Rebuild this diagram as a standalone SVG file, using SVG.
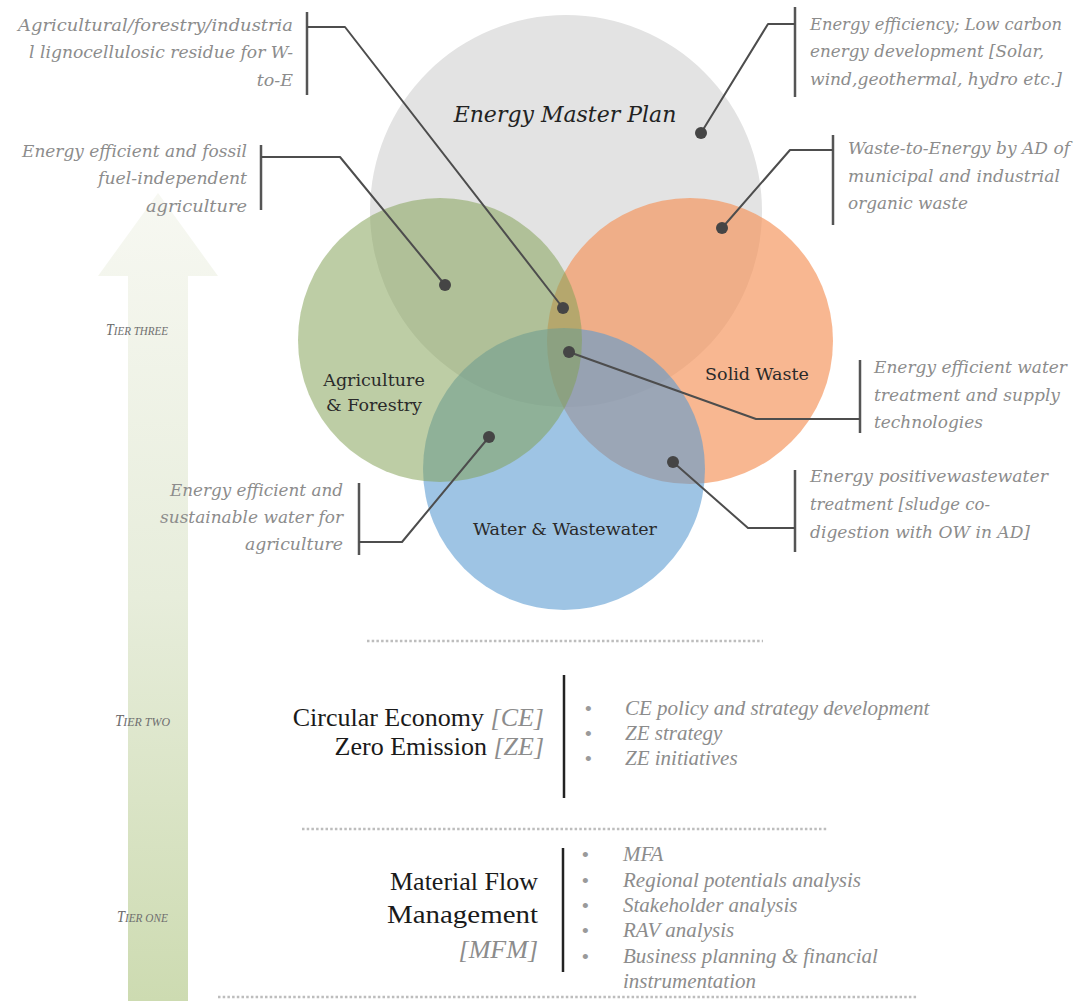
<svg xmlns="http://www.w3.org/2000/svg" width="1077" height="1001" viewBox="0 0 1077 1001">
  <style>
    .note { font-family: "DejaVu Serif", "Liberation Serif", serif; font-style: italic; font-size: 17.5px; fill: #8c8c8c; }
    .lbl { font-family: "DejaVu Serif", "Liberation Serif", serif; font-size: 17.5px; fill: #2a2a2a; text-anchor: middle; }
    .title { font-family: "DejaVu Serif", "Liberation Serif", serif; font-style: italic; font-size: 22px; fill: #222; text-anchor: middle; }
    .tier { font-family: "Liberation Serif", "DejaVu Serif", serif; font-style: italic; fill: #6e6e6e; }
    .big { font-family: "Liberation Serif", "DejaVu Serif", serif; font-size: 26px; fill: #1a1a1a; text-anchor: end; }
    .abbr { font-style: italic; fill: #8c8c8c; }
    .item { font-family: "Liberation Serif", "DejaVu Serif", serif; font-style: italic; font-size: 21px; fill: #8c8c8c; }
    .bul { font-family: "Liberation Sans", sans-serif; font-size: 19px; fill: #9a9a9a; }
    .lead { fill: none; stroke: #4d4d4d; stroke-width: 2; stroke-linejoin: round; }
    .brk { fill: none; stroke: #555; stroke-width: 2.5; }
    .dot { fill: #454545; }
    .sep { stroke: #bdbdbd; stroke-width: 2.5; stroke-dasharray: 2.5 2.2; }
    .rule { stroke: #222; stroke-width: 2.5; }
  </style>
  <defs>
    <linearGradient id="tierGrad" x1="0" y1="193" x2="0" y2="1001" gradientUnits="userSpaceOnUse">
      <stop offset="0" stop-color="#f7f8f2"/>
      <stop offset="0.5" stop-color="#e7eddb"/>
      <stop offset="1" stop-color="#cddbb1"/>
    </linearGradient>
  </defs>

  <rect width="1077" height="1001" fill="#ffffff"/>

  <!-- tier arrow -->
  <g id="tier-arrow">
    <polygon points="158,193 218,276 188,276 188,1001 128,1001 128,276 98,276" fill="url(#tierGrad)"/>
  </g>

  <!-- tier names (small caps) -->
  <g id="tier-labels" class="tier">
    <text x="106" y="335" textLength="62" lengthAdjust="spacingAndGlyphs"><tspan font-size="17">T</tspan><tspan font-size="13.5">IER THREE</tspan></text>
    <text x="115" y="726" textLength="55" lengthAdjust="spacingAndGlyphs"><tspan font-size="17">T</tspan><tspan font-size="13.5">IER TWO</tspan></text>
    <text x="117" y="922" textLength="51" lengthAdjust="spacingAndGlyphs"><tspan font-size="17">T</tspan><tspan font-size="13.5">IER ONE</tspan></text>
  </g>

  <!-- overlapping sector circles -->
  <g id="energy-master-plan">
    <circle cx="566" cy="211" r="196" fill="#e3e3e3"/>
    <text class="title" x="565" y="122">Energy Master Plan</text>
  </g>
  <g id="solid-waste">
    <circle cx="690" cy="341" r="143" fill="#f59258" fill-opacity="0.66"/>
  </g>
  <g id="water-wastewater">
    <circle cx="564" cy="469" r="141" fill="#5899d1" fill-opacity="0.58"/>
  </g>
  <g id="agriculture-forestry">
    <circle cx="440" cy="340" r="142" fill="#83a155" fill-opacity="0.53"/>
  </g>

  <g id="circle-labels">
    <text class="lbl" x="374" y="386">Agriculture</text>
    <text class="lbl" x="374" y="411">&amp; Forestry</text>
    <text class="lbl" x="757" y="380">Solid Waste</text>
    <text class="lbl" x="565" y="535">Water &amp; Wastewater</text>
  </g>

  <!-- leader lines from the annotations to the circle regions -->
  <g id="connectors">
    <path class="brk" d="M307,12 V95 M261,145 V210 M795,7 V97 M833,135 V225 M860,360 V433 M795,470 V552 M359,483 V555"/>
    <polyline class="lead" points="307,27 345,27 563,308"/>
    <polyline class="lead" points="261,157 340,157 445,285"/>
    <polyline class="lead" points="795,24 768,24 701,133"/>
    <polyline class="lead" points="833,150 790,150 722,228"/>
    <polyline class="lead" points="860,419 756,419 569,352"/>
    <polyline class="lead" points="795,528 748,528 673,462"/>
    <polyline class="lead" points="359,542 402,542 489,437"/>
    <circle class="dot" cx="563" cy="308" r="6"/>
    <circle class="dot" cx="445" cy="285" r="6"/>
    <circle class="dot" cx="701" cy="133" r="6"/>
    <circle class="dot" cx="722" cy="228" r="6"/>
    <circle class="dot" cx="569" cy="352" r="6"/>
    <circle class="dot" cx="673" cy="462" r="6"/>
    <circle class="dot" cx="489" cy="437" r="6"/>
  </g>

  <!-- annotations -->
  <g id="note-residue" class="note" text-anchor="end">
    <text x="293" y="31" textLength="275" lengthAdjust="spacingAndGlyphs">Agricultural/forestry/industria</text>
    <text x="293" y="58" textLength="264" lengthAdjust="spacingAndGlyphs">l lignocellulosic residue for W-</text>
    <text x="293" y="86">to-E</text>
  </g>
  <g id="note-agriculture" class="note" text-anchor="end">
    <text x="247" y="157" textLength="225" lengthAdjust="spacingAndGlyphs">Energy efficient and fossil</text>
    <text x="247" y="184" textLength="149" lengthAdjust="spacingAndGlyphs">fuel-independent</text>
    <text x="247" y="212" textLength="101" lengthAdjust="spacingAndGlyphs">agriculture</text>
  </g>
  <g id="note-energy" class="note">
    <text x="810" y="30" style="font-size:16.5px" textLength="252" lengthAdjust="spacingAndGlyphs">Energy efficiency; Low carbon</text>
    <text x="810" y="57" textLength="234" lengthAdjust="spacingAndGlyphs">energy development [Solar,</text>
    <text x="810" y="85" style="font-size:16.5px" textLength="252" lengthAdjust="spacingAndGlyphs">wind,geothermal, hydro etc.]</text>
  </g>
  <g id="note-wte" class="note">
    <text x="848" y="154" textLength="222" lengthAdjust="spacingAndGlyphs">Waste-to-Energy by AD of</text>
    <text x="848" y="182" textLength="212" lengthAdjust="spacingAndGlyphs">municipal and industrial</text>
    <text x="848" y="209" textLength="120" lengthAdjust="spacingAndGlyphs">organic waste</text>
  </g>
  <g id="note-water-supply" class="note">
    <text x="874" y="373" textLength="193" lengthAdjust="spacingAndGlyphs">Energy efficient water</text>
    <text x="874" y="401" textLength="186" lengthAdjust="spacingAndGlyphs">treatment and supply</text>
    <text x="874" y="428" textLength="109" lengthAdjust="spacingAndGlyphs">technologies</text>
  </g>
  <g id="note-wastewater" class="note">
    <text x="810" y="482" textLength="238" lengthAdjust="spacingAndGlyphs">Energy positivewastewater</text>
    <text x="810" y="510" textLength="180" lengthAdjust="spacingAndGlyphs">treatment [sludge co-</text>
    <text x="810" y="538" textLength="220" lengthAdjust="spacingAndGlyphs">digestion with OW in AD]</text>
  </g>
  <g id="note-irrigation" class="note" text-anchor="end">
    <text x="343" y="496" textLength="173" lengthAdjust="spacingAndGlyphs">Energy efficient and</text>
    <text x="343" y="523" textLength="183" lengthAdjust="spacingAndGlyphs">sustainable water for</text>
    <text x="343" y="550" textLength="98" lengthAdjust="spacingAndGlyphs">agriculture</text>
  </g>

  <!-- separators -->
  <g id="separators">
    <line class="sep" x1="367" y1="641" x2="763" y2="641"/>
    <line class="sep" x1="302" y1="829" x2="828" y2="829"/>
    <line class="sep" x1="218" y1="997" x2="918" y2="997"/>
  </g>

  <!-- tier two -->
  <g id="tier-two">
    <text class="big" x="544" y="726">Circular Economy <tspan class="abbr">[CE]</tspan></text>
    <text class="big" x="544" y="755">Zero Emission <tspan class="abbr">[ZE]</tspan></text>
    <line class="rule" x1="564" y1="675" x2="564" y2="798"/>
    <text class="bul" x="585" y="715">•</text>
    <text class="bul" x="585" y="740">•</text>
    <text class="bul" x="585" y="765">•</text>
    <text class="item" x="625" y="715">CE policy and strategy development</text>
    <text class="item" x="625" y="740">ZE strategy</text>
    <text class="item" x="625" y="765">ZE initiatives</text>
  </g>

  <!-- tier one -->
  <g id="tier-one">
    <text class="big" x="538" y="890">Material Flow</text>
    <text class="big" x="538" y="923" textLength="151" lengthAdjust="spacingAndGlyphs">Management</text>
    <text class="big abbr" x="538" y="958">[MFM]</text>
    <line class="rule" x1="563" y1="848" x2="563" y2="972"/>
    <text class="bul" x="582" y="861">•</text>
    <text class="bul" x="582" y="887">•</text>
    <text class="bul" x="582" y="912">•</text>
    <text class="bul" x="582" y="937">•</text>
    <text class="bul" x="582" y="963">•</text>
    <text class="item" x="623" y="861">MFA</text>
    <text class="item" x="623" y="887">Regional potentials analysis</text>
    <text class="item" x="623" y="912">Stakeholder analysis</text>
    <text class="item" x="623" y="937">RAV analysis</text>
    <text class="item" x="623" y="963">Business planning &amp; financial</text>
    <text class="item" x="623" y="988">instrumentation</text>
  </g>
</svg>
